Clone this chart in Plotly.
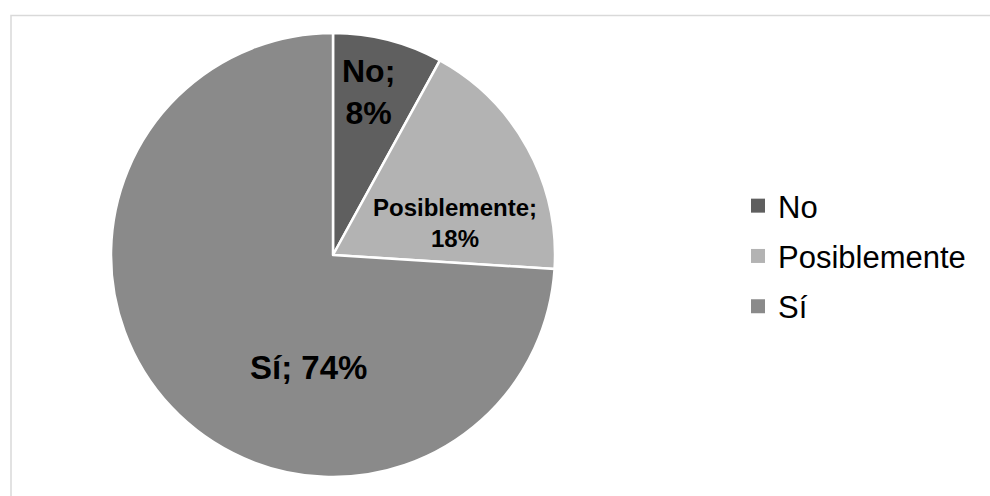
import plotly.graph_objects as go

# Respuestas y porcentajes
categorias = ["No", "Posiblemente", "Sí"]
valores = [8, 18, 74]
colores = ["#5f5f5f", "#b3b3b3", "#8a8a8a"]

W, H = 990, 496
cx, cy, r = 333, 255, 222

# Ubicación (px) y formato de cada etiqueta de datos
pos_etiquetas = [(368, 92), (455, 223), (308, 367)]
tam_etiquetas = [32, 24, 33]
salto_linea = [True, True, False]

fig = go.Figure()
fig.add_trace(go.Pie(
    labels=categorias,
    values=valores,
    sort=False,
    direction="clockwise",
    rotation=0,
    marker=dict(colors=colores, line=dict(color="white", width=2.5)),
    textinfo="none",
    domain=dict(x=[(cx - r) / W, (cx + r) / W], y=[1 - (cy + r) / H, 1 - (cy - r) / H]),
    showlegend=False,
    hoverinfo="label+percent",
))

# Entradas de la leyenda (una por categoría, con separación controlada)
for cat, col in zip(categorias, colores):
    fig.add_trace(go.Scatter(
        x=[None], y=[None], mode="markers", name=cat, legendgroup=cat,
        marker=dict(symbol="square", size=14, color=col, line=dict(width=0)),
    ))

# Etiquetas de datos: "categoría; porcentaje"
total = sum(valores)
anotaciones = []
for cat, val, (px, py), tam, br in zip(categorias, valores, pos_etiquetas, tam_etiquetas, salto_linea):
    pct = f"{round(100 * val / total)}%"
    sep = ";<br>" if br else "; "
    anotaciones.append(dict(
        x=px / W, y=1 - py / H, xref="paper", yref="paper",
        xanchor="center", yanchor="middle", showarrow=False,
        text=f"<b>{cat}{sep}{pct}</b>",
        font=dict(family="Liberation Sans, Arial", size=tam, color="black"),
    ))

fig.update_layout(
    width=W, height=H,
    margin=dict(l=0, r=0, t=0, b=0),
    paper_bgcolor="white", plot_bgcolor="white",
    xaxis=dict(visible=False), yaxis=dict(visible=False),
    font=dict(family="Liberation Sans, Arial", color="black"),
    annotations=anotaciones,
    legend=dict(
        x=(758 - 20) / W, xanchor="left",
        y=1 - 179 / H, yanchor="top",
        font=dict(size=31, color="black"),
        tracegroupgap=7,
        bgcolor="rgba(0,0,0,0)",
    ),
    shapes=[dict(
        type="rect", xref="paper", yref="paper",
        x0=11 / W, x1=1.02, y0=-0.02, y1=1 - 15.5 / H,
        line=dict(color="#d9d9d9", width=1.5), layer="below",
    )],
)

fig.write_html("out.html")
